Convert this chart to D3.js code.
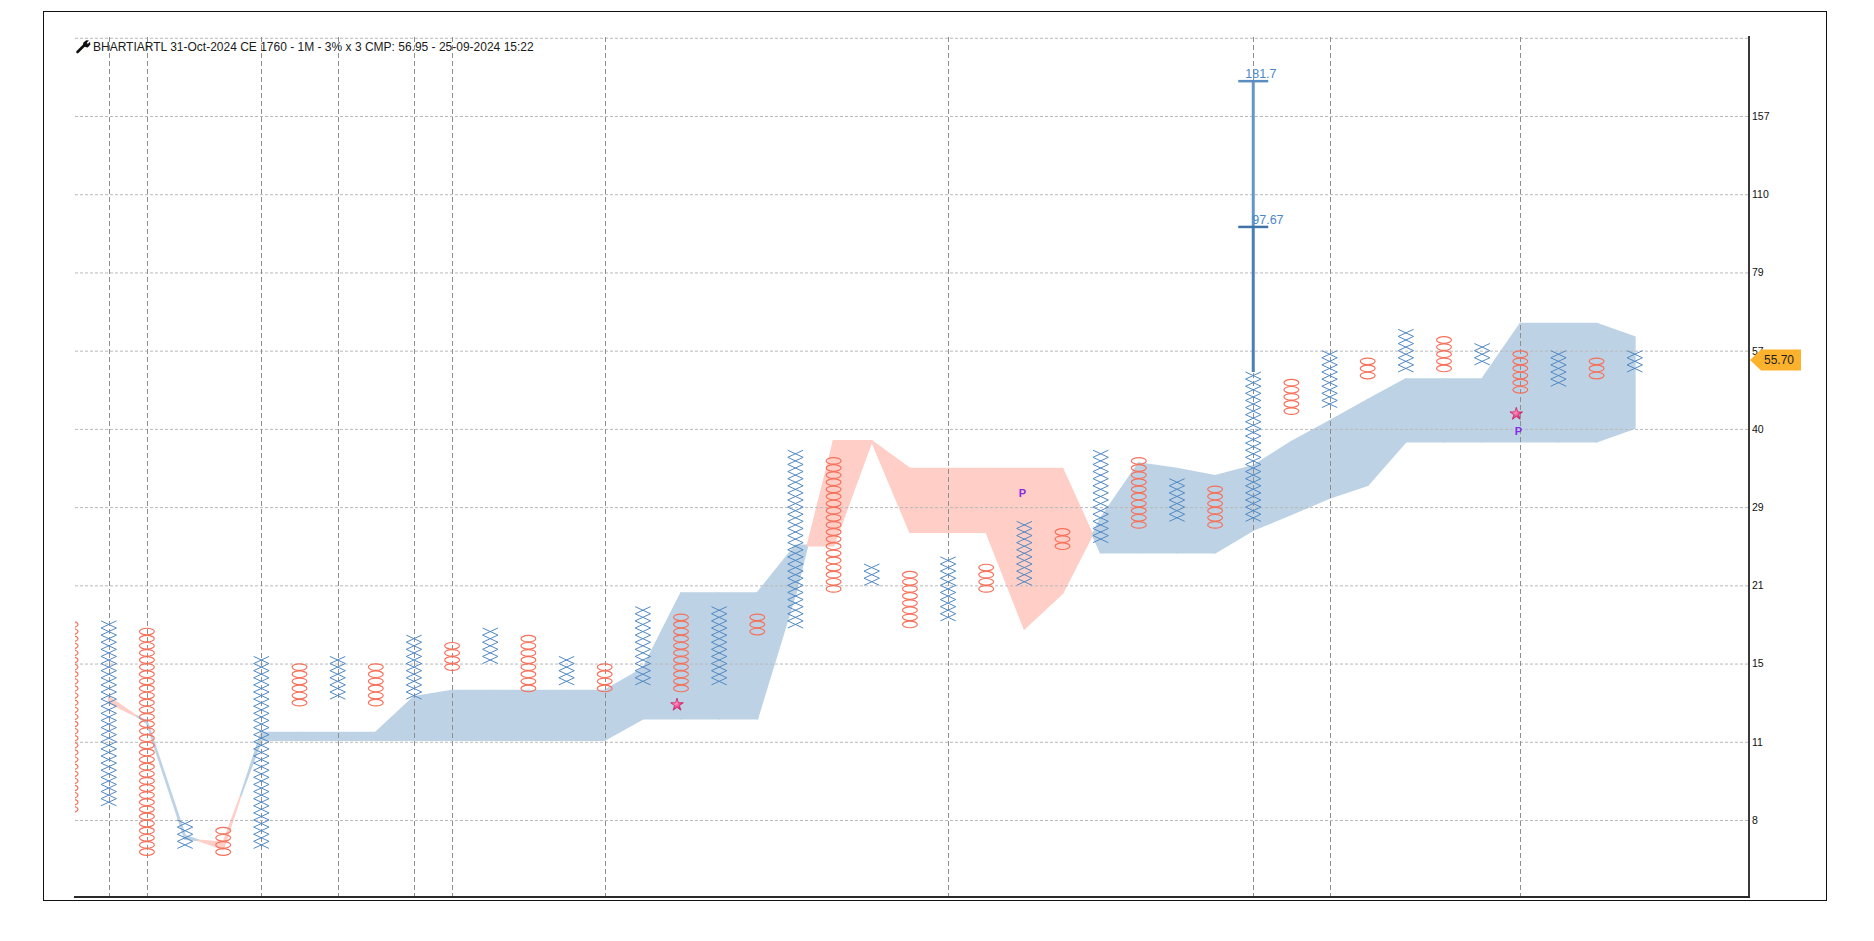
<!DOCTYPE html>
<html>
<head>
<meta charset="utf-8">
<script src="https://cdn.jsdelivr.net/npm/d3@7"></script>
<style>
  body { margin: 0; background: #fff; }
  svg { display: block; font-family: "Liberation Sans", Arial, sans-serif; }
</style>
</head>
<body>
<div id="chart"></div>
<script>
var width = 1874
var height = 941
var plot = { left: 75, right: 1749, top: 36, bottom: 897 }

var title = 'BHARTIARTL 31-Oct-2024 CE 1760 - 1M - 3% x 3 CMP: 56.95 - 25-09-2024 15:22'

// price axis (box levels, 3% boxes) and its labels
var yTickLevels = [5, 16, 27, 38, 49, 60, 71, 82, 93, 104, 115]
var yTickLabels = ['8', '11', '15', '21', '29', '40', '57', '79', '110', '157', '']

// point & figure columns: type, lowest box, highest box
var colType = ['O', 'X', 'O', 'X', 'O', 'X', 'O', 'X', 'O', 'X', 'O', 'X', 'O', 'X', 'O', 'X', 'O', 'X', 'O', 'X', 'O',
  'X', 'O', 'X', 'O', 'X', 'O', 'X', 'O', 'X', 'O', 'X', 'O', 'X', 'O', 'X', 'O', 'X', 'O', 'X', 'O', 'X']
var colLow = [6, 7, 0, 1, 0, 1, 21, 22, 21, 22, 26, 27, 23, 24, 23, 24, 23, 24, 31, 32, 37,
  38, 32, 33, 37, 38, 43, 44, 46, 47, 46, 47, 62, 63, 67, 68, 68, 69, 65, 66, 67, 68]
var colHigh = [32, 32, 31, 4, 3, 27, 26, 27, 26, 30, 29, 31, 30, 27, 26, 34, 33, 34, 33, 56, 55,
  40, 39, 41, 40, 46, 45, 56, 55, 52, 51, 67, 66, 70, 69, 73, 72, 71, 70, 70, 69, 70]

// columns where a new month starts
var monthCols = [1, 2, 5, 7, 9, 10, 14, 23, 31, 33, 38]

// cloud lines, one value per column from column 1
var cloudStart = 1
var cloudA = [21.5, 18.9, 2.8, 0.9, 17.3, 17.3, 17.3, 17.3, 22.3, 23.2, 23.2, 23.2, 23.2, 23.2, 26.3, 36.9, 36.9, 36.9,
  43.6, 43.6, 58.3, 45.5, 45.5, 45.5, 31.9, 36.9, 47.4, 55.2, 54.4, 53.4, 54.8, 58.2, 61.1, 64.1, 67.0, 67.0, 67.0,
  74.8, 74.8, 74.8, 72.9]
var cloudB = [22.3, 18.6, 2.3, 1.8, 16.25, 16.25, 16.25, 16.25, 16.25, 16.25, 16.25, 16.25, 16.25, 16.25, 19.25, 19.25,
  19.25, 19.25, 36.8, 58.3, 58.3, 54.4, 54.4, 54.4, 54.4, 54.4, 42.6, 42.6, 42.6, 42.6, 45.8, 48.0, 50.3, 52.1, 58.2,
  58.2, 58.2, 58.2, 58.2, 58.2, 60.1]

// vertical count targets
var targetCol = 31
var targetLabels = ['97.67', '181.7']
var targetLevels = [88.4, 108.9]

// signals
var starCols = [16, 38]
var starLevels = [21.2, 62.1]
var pCols = [25, 38]
var pLevels = [51.0, 59.75]

var lastPrice = '55.70'
var lastLevel = 69.7

var xScale = d3.scaleLinear()
  .domain([0, 44])
  .range([70.6, plot.right + 0.2])

var yScale = d3.scaleLinear()
  .domain([5, 104])
  .range([820, 116])

var svg = d3.select('#chart')
  .append('svg')
  .attr('width', width)
  .attr('height', height)

svg.append('defs')
  .append('clipPath')
  .attr('id', 'plot-clip')
  .append('rect')
  .attr('x', plot.left)
  .attr('y', plot.top)
  .attr('width', plot.right - plot.left)
  .attr('height', plot.bottom - plot.top)

var grad = svg.select('defs')
  .append('radialGradient')
  .attr('id', 'star-grad')
  .attr('cx', '40%')
  .attr('cy', '40%')
  .attr('r', '60%')
grad.append('stop').attr('offset', '0%').attr('stop-color', '#ff9cc4')
grad.append('stop').attr('offset', '100%').attr('stop-color', '#e0186a')

// outer frame
svg.append('rect')
  .attr('x', 43.5)
  .attr('y', 11.5)
  .attr('width', 1783)
  .attr('height', 889)
  .attr('fill', 'none')
  .attr('stroke', '#111')
  .attr('stroke-width', 1)

// cloud
var cloudG = svg.append('g')
  .attr('clip-path', 'url(#plot-clip)')

var area = d3.area()
  .x(d => xScale(d.c))
  .y0(d => yScale(d.a))
  .y1(d => yScale(d.b))

for (var i = 0; i < cloudA.length - 1; i++) {
  var c0 = cloudStart + i
  var d0 = cloudA[i] - cloudB[i]
  var d1 = cloudA[i + 1] - cloudB[i + 1]
  var p0 = { c: c0, a: cloudA[i], b: cloudB[i] }
  var p1 = { c: c0 + 1, a: cloudA[i + 1], b: cloudB[i + 1] }
  var pieces = []
  if ((d0 >= 0 && d1 >= 0) || (d0 <= 0 && d1 <= 0)) {
    pieces.push({ pts: [p0, p1], up: (d0 + d1) >= 0 })
  } else {
    var t = d0 / (d0 - d1)
    var v = cloudA[i] + t * (cloudA[i + 1] - cloudA[i])
    var pm = { c: c0 + t, a: v, b: v }
    pieces.push({ pts: [p0, pm], up: d0 > 0 })
    pieces.push({ pts: [pm, p1], up: d1 > 0 })
  }
  pieces.forEach(function(p) {
    cloudG.append('path')
      .attr('d', area(p.pts))
      .attr('fill', p.up ? '#bdd3e5' : '#ffcec7')
      .attr('stroke', p.up ? '#bdd3e5' : '#ffcec7')
      .attr('stroke-width', 1.8)
      .attr('stroke-linejoin', 'round')
  })
}

// horizontal grid
var yGrid = d3.axisLeft(yScale)
  .tickValues(yTickLevels)
  .tickSize(-(plot.right - plot.left))
  .tickFormat('')

svg.append('g')
  .attr('class', 'grid')
  .attr('transform', `translate(${plot.left},0)`)
  .call(yGrid)
  .call(g => g.select('.domain').remove())
  .selectAll('line')
  .attr('stroke', '#b9b9b9')
  .attr('stroke-dasharray', '3,2')

// month separators
svg.append('g')
  .selectAll('line')
  .data(monthCols)
  .join('line')
  .attr('x1', d => Math.round(xScale(d)) + 0.5)
  .attr('x2', d => Math.round(xScale(d)) + 0.5)
  .attr('y1', plot.top + 1)
  .attr('y2', plot.bottom)
  .attr('stroke', '#8f8f8f')
  .attr('stroke-dasharray', '5,3')

// columns
var colG = svg.append('g')
  .attr('clip-path', 'url(#plot-clip)')

colType.forEach(function(t, c) {
  var x = xScale(c)
  var boxes = d3.range(colLow[c], colHigh[c] + 1)
  if (t == 'X') {
    var path = boxes.map(function(b) {
      var yt = yScale(b + 1), yb = yScale(b)
      return `M${x - 7.7},${yt}L${x + 7.7},${yb}M${x - 7.7},${yb}L${x + 7.7},${yt}`
    }).join('')
    colG.append('path')
      .attr('d', path)
      .attr('fill', 'none')
      .attr('stroke', '#5189c3')
      .attr('stroke-width', 1)
  } else {
    colG.append('g')
      .selectAll('ellipse')
      .data(boxes)
      .join('ellipse')
      .attr('cx', x)
      .attr('cy', b => yScale(b + 0.5))
      .attr('rx', 7.4)
      .attr('ry', 3.3)
      .attr('fill', 'none')
      .attr('stroke', '#f5705a')
      .attr('stroke-width', 1.2)
  }
})

// vertical count target line
var tx = xScale(targetCol)
svg.append('line')
  .attr('x1', tx).attr('x2', tx)
  .attr('y1', yScale(colHigh[targetCol] + 1))
  .attr('y2', yScale(targetLevels[0]))
  .attr('stroke', '#4b80b6')
  .attr('stroke-width', 3)
svg.append('line')
  .attr('x1', tx).attr('x2', tx)
  .attr('y1', yScale(targetLevels[0]))
  .attr('y2', yScale(targetLevels[1]))
  .attr('stroke', '#6496c8')
  .attr('stroke-width', 3)

targetLevels.forEach(function(l, i) {
  svg.append('line')
    .attr('x1', tx - 15)
    .attr('x2', tx + 15)
    .attr('y1', yScale(l))
    .attr('y2', yScale(l))
    .attr('stroke', i == 0 ? '#3f74aa' : '#5a8dc2')
    .attr('stroke-width', 2.5)
  svg.append('text')
    .attr('x', i == 0 ? tx - 1 : tx - 8)
    .attr('y', yScale(l) - 3)
    .attr('font-size', '12.5px')
    .attr('fill', '#4a88c9')
    .text(targetLabels[i])
})

// signals
svg.append('g')
  .selectAll('path')
  .data(starCols)
  .join('path')
  .attr('d', d3.symbol().type(d3.symbolStar).size(50))
  .attr('transform', (d, i) => `translate(${xScale(d) - 4},${yScale(starLevels[i])})`)
  .attr('fill', 'url(#star-grad)')
  .attr('stroke', '#c8145c')
  .attr('stroke-width', 0.7)

svg.append('g')
  .selectAll('text')
  .data(pCols)
  .join('text')
  .attr('x', (d) => xScale(d) - 2)
  .attr('y', (d, i) => yScale(pLevels[i]))
  .attr('dy', '0.35em')
  .attr('text-anchor', 'middle')
  .attr('font-size', '11px')
  .attr('font-weight', 'bold')
  .attr('fill', '#8a2be2')
  .text('P')

// price axis
var yAxis = d3.axisRight(yScale)
  .tickValues(yTickLevels.slice(0, 10))
  .tickFormat((d, i) => yTickLabels[i])
  .tickSize(0)
  .tickPadding(3)

svg.append('g')
  .attr('transform', `translate(${plot.right},0)`)
  .call(yAxis)
  .call(g => g.select('.domain').remove())
  .selectAll('text')
  .attr('font-size', '10.5px')
  .attr('font-family', '"Liberation Sans", Arial, sans-serif')
  .attr('fill', '#111')

svg.append('line')
  .attr('x1', plot.right).attr('x2', plot.right)
  .attr('y1', plot.top).attr('y2', plot.bottom + 1)
  .attr('stroke', '#3a3a3a')
  .attr('stroke-width', 2)

svg.append('line')
  .attr('x1', plot.left - 1).attr('x2', plot.right + 1)
  .attr('y1', plot.bottom).attr('y2', plot.bottom)
  .attr('stroke', '#2a2a2a')
  .attr('stroke-width', 2)

// last price tag
var ly = yScale(lastLevel)
svg.append('path')
  .attr('d', `M${plot.right + 1},${ly}L${plot.right + 12},${ly - 10.5}L${plot.right + 52},${ly - 10.5}L${plot.right + 52},${ly + 10.5}L${plot.right + 12},${ly + 10.5}Z`)
  .attr('fill', '#fdb22e')
svg.append('text')
  .attr('x', plot.right + 15)
  .attr('y', ly)
  .attr('dy', '0.36em')
  .attr('font-size', '12px')
  .attr('fill', '#222')
  .text(lastPrice)

// title with wrench icon
var icon = svg.append('g')
icon.append('path')
  .attr('d', 'M77.5,52 L84.5,45')
  .attr('stroke', '#111')
  .attr('stroke-width', 2.6)
  .attr('stroke-linecap', 'round')
icon.append('path')
  .attr('d', 'M83,46.5 L83.2,42.8 L86.2,40.2 L89,40.6 L86.8,42.8 L87.8,44 L90,41.8 L90.4,44.6 L87.8,47.6 Z')
  .attr('fill', '#111')

svg.append('text')
  .attr('x', 93)
  .attr('y', 50.5)
  .attr('font-size', '12px')
  .attr('fill', '#1a1a1a')
  .text(title)
</script>
</body>
</html>
